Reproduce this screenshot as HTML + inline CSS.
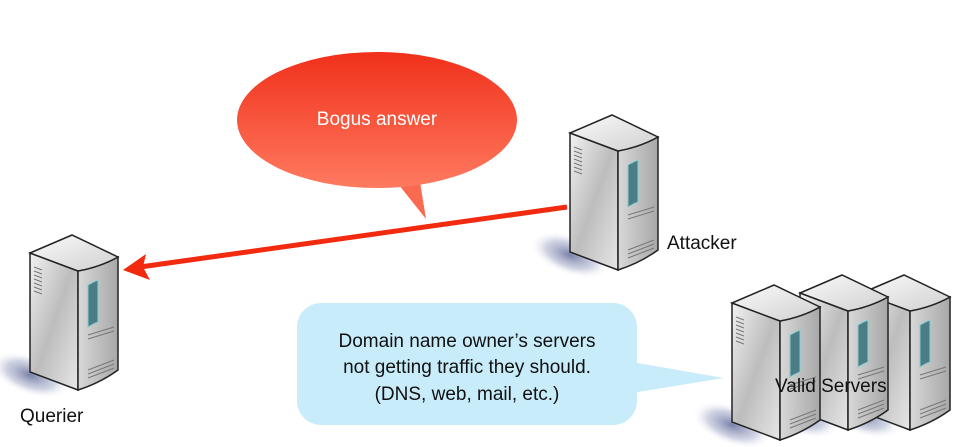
<!DOCTYPE html>
<html><head><meta charset="utf-8"><style>
html,body{margin:0;padding:0;background:#fff;}
svg{display:block;}
text{font-family:"Liberation Sans",sans-serif;}
</style></head><body>
<svg width="967" height="447" viewBox="0 0 967 447" xmlns="http://www.w3.org/2000/svg">
<defs>
<linearGradient id="lf" x1="0" y1="0" x2="1" y2="1">
<stop offset="0" stop-color="#f2f2f2"/><stop offset="0.5" stop-color="#bdbdbd"/><stop offset="1" stop-color="#e6e6e6"/></linearGradient>
<linearGradient id="rf" x1="0" y1="0" x2="1" y2="0">
<stop offset="0" stop-color="#d8d8d8"/><stop offset="1" stop-color="#a8a8a8"/></linearGradient>
<linearGradient id="tf" x1="0" y1="0" x2="1" y2="1">
<stop offset="0" stop-color="#fafafa"/><stop offset="1" stop-color="#d0d0d0"/></linearGradient>
<linearGradient id="red" x1="0" y1="0" x2="0" y2="1">
<stop offset="0" stop-color="#f0301a"/><stop offset="1" stop-color="#ff7a60"/></linearGradient>
<radialGradient id="sh" cx="0.5" cy="0.5" r="0.5"><stop offset="0" stop-color="#7880a8"/><stop offset="0.6" stop-color="#b0b6d0" stop-opacity="0.6"/><stop offset="1" stop-color="#fff" stop-opacity="0"/></radialGradient>
<g id="srv">
<ellipse cx="0" cy="140" rx="42" ry="20" fill="url(#sh)" transform="rotate(20 0 140)"/>
<path d="M0 18 L48 36 L48 155 L0 137 Z" fill="url(#lf)" stroke="#222" stroke-width="1.5"/>
<path d="M48 36 Q70 32 88 22 L88 135 Q70 148 48 155 Z" fill="url(#rf)" stroke="#222" stroke-width="1.5"/>
<path d="M0 18 L42 0 L88 22 Q70 32 48 36 Z" fill="url(#tf)" stroke="#222" stroke-width="1.5"/>
<path d="M58 50 Q63 47 68 45 L68 87 Q63 89 58 92 Z" fill="#4a7d85" stroke="#8cc" stroke-width="1"/>
<g stroke="#777" stroke-width="1"><line x1="4" y1="32" x2="12" y2="35"/><line x1="4" y1="36" x2="12" y2="39"/><line x1="4" y1="40" x2="12" y2="43"/><line x1="4" y1="44" x2="12" y2="47"/><line x1="4" y1="48" x2="12" y2="51"/><line x1="4" y1="52" x2="12" y2="55"/><line x1="4" y1="56" x2="12" y2="59"/>
<line x1="58" y1="100" x2="84" y2="92"/><line x1="58" y1="104" x2="84" y2="96"/>
<line x1="58" y1="135" x2="84" y2="125"/><line x1="58" y1="139" x2="84" y2="129"/><line x1="58" y1="143" x2="84" y2="133"/></g>
</g>
</defs>
<path d="M395 180 L426 219 L420 182 Z" fill="#f96a50"/>
<ellipse cx="377" cy="120" rx="140" ry="68" fill="url(#red)"/>
<text x="377" y="125" font-size="19" fill="#fff" text-anchor="middle">Bogus answer</text>
<line x1="567" y1="207" x2="140" y2="267" stroke="#f22a10" stroke-width="5"/>
<path d="M123 270 L146 254 L143 267 L150 280 Z" fill="#f22a10"/>
<use href="#srv" x="570" y="115"/>
<text x="667" y="249" font-size="19" fill="#111">Attacker</text>
<use href="#srv" x="30" y="235"/>
<text x="20" y="422" font-size="19" fill="#111">Querier</text>
<path d="M620 360 L724 378 L620 395 Z" fill="#c8ecfa"/>
<rect x="297" y="303" width="340" height="122" rx="24" fill="#c8ecfa"/>
<text font-size="19" fill="#111" text-anchor="middle"><tspan x="467" y="347">Domain name owner’s servers</tspan><tspan x="467" y="373">not getting traffic they should.</tspan><tspan x="467" y="400">(DNS, web, mail, etc.)</tspan></text>
<use href="#srv" x="862" y="275"/>
<use href="#srv" x="800" y="275"/>
<use href="#srv" x="732" y="285"/>
<text x="775" y="392" font-size="19" fill="#111">Valid Servers</text>
</svg>
</body></html>
